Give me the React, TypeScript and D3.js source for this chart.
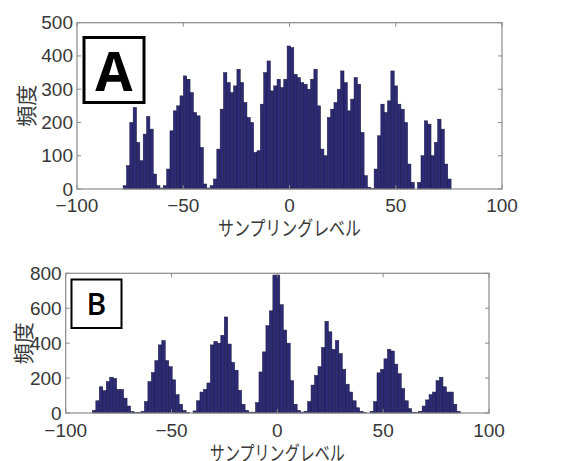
import React from "react";
import * as d3 from "d3";

// ---- Data ----
const xTicks = [-100, -50, 0, 50, 100];
const yTicksA = [0, 100, 200, 300, 400, 500];
const yTicksB = [0, 200, 400, 600, 800];

const binStartA = -78.3;
const binWidthA = 1.575;
const countsA = [
  10, 70, 200, 245, 140, 85, 165, 218, 180, 45,
  10, 3, 10, 60, 175, 235, 250, 280, 340, 330,
  290, 230, 220, 125, 15, 3, 10, 30, 120, 240,
  350, 320, 290, 310, 360, 320, 260, 215, 200, 110,
  115, 255, 350, 385, 295, 310, 330, 305, 330, 430,
  425, 345, 335, 320, 315, 300, 330, 360, 250, 120,
  100, 215, 240, 260, 300, 355, 320, 235, 270, 335,
  315, 170, 40, 5, 2, 60, 160, 255, 230, 265,
  355, 310, 255, 240, 200, 75, 20, 0, 20, 100,
  205, 195, 100, 140, 210, 180, 75, 30,
];

const binStartB = -87.4;
const binWidthB = 1.64;
const countsB = [
  15, 70, 150, 128, 180, 205, 198, 135, 135, 85,
  40, 8, 2, 3, 10, 65, 180, 232, 300, 390,
  415, 300, 265, 190, 105, 50, 15, 2, 0, 12,
  70, 120, 135, 172, 390, 410, 400, 445, 550, 395,
  290, 245, 130, 50, 15, 5, 5, 60, 235, 350,
  500, 585, 790, 790, 620, 475, 400, 185, 50, 15,
  5, 10, 65, 160, 215, 265, 375, 525, 465, 365,
  415, 340, 250, 165, 120, 70, 30, 10, 2, 0,
  10, 65, 230, 250, 310, 365, 355, 280, 225, 140,
  70, 25, 5, 2, 10, 40, 75, 105, 120, 185,
  205, 150, 120, 120, 50, 10,
];

const yLabel = "頻度";
const xLabel = "サンプリングレベル";

type PanelProps = {
  counts: number[];
  binStart: number;
  binWidth: number;
  yTicks: number[];
  yMax: number;
  left: number;
  right: number;
  top: number;
  bottom: number;
  tagLetter: string;
  tagBox: { x: number; y: number; w: number; h: number; sw: number; fs: number; weight: number };
  xLabelY: number;
  xLabelLen: number;
  xTickY: number;
  yLabelX: number;
};

const fmt = (v: number) => (v < 0 ? "\u2212" + Math.abs(v) : String(v));

function Panel(p: PanelProps) {
  const x = d3.scaleLinear().domain([-100, 100]).range([p.left, p.right]);
  const y = d3.scaleLinear().domain([0, p.yMax]).range([p.bottom, p.top]);
  const tickLen = 4;
  const axisColor = "#8a8a8a";
  const textColor = "#383838";
  return (
    <g>
      {p.counts.map((c, i) => {
        const x0 = x(p.binStart + i * p.binWidth);
        const x1 = x(p.binStart + (i + 1) * p.binWidth);
        const yT = y(c);
        return (
          <rect
            key={i}
            x={x0}
            y={yT}
            width={x1 - x0}
            height={Math.max(0, y(0) - yT)}
            fill="#2e2b76"
            stroke="#16153c"
            strokeWidth={0.5}
          />
        );
      })}
      <rect
        x={p.left}
        y={p.top}
        width={p.right - p.left}
        height={p.bottom - p.top}
        fill="none"
        stroke={axisColor}
        strokeWidth={1.2}
      />
      {xTicks.map((t) => (
        <g key={"xt" + t}>
          <line x1={x(t)} x2={x(t)} y1={p.bottom} y2={p.bottom - tickLen} stroke={axisColor} />
          <line x1={x(t)} x2={x(t)} y1={p.top} y2={p.top + tickLen} stroke={axisColor} />
          <text
            x={x(t)}
            y={p.xTickY}
            textAnchor="middle"
            dominantBaseline="central"
            fontFamily="Liberation Sans, Arial, sans-serif"
            fontSize={19}
            fill={textColor}
          >
            {fmt(t)}
          </text>
        </g>
      ))}
      {p.yTicks.map((t) => (
        <g key={"yt" + t}>
          <line x1={p.left} x2={p.left + tickLen} y1={y(t)} y2={y(t)} stroke={axisColor} />
          <line x1={p.right} x2={p.right - tickLen} y1={y(t)} y2={y(t)} stroke={axisColor} />
          <text
            x={p.left - 4}
            y={y(t)}
            textAnchor="end"
            dominantBaseline="central"
            fontFamily="Liberation Sans, Arial, sans-serif"
            fontSize={19}
            fill={textColor}
          >
            {t}
          </text>
        </g>
      ))}
      <text
        x={(p.left + p.right) / 2}
        y={p.xLabelY}
        textAnchor="middle"
        dominantBaseline="central"
        fontFamily="Noto Sans CJK JP, sans-serif"
        fontSize={20}
        fill={textColor}
        textLength={p.xLabelLen}
        lengthAdjust="spacingAndGlyphs"
      >
        {xLabel}
      </text>
      <text
        transform={`translate(${p.yLabelX},${(p.top + p.bottom) / 2}) rotate(-90)`}
        textAnchor="middle"
        dominantBaseline="central"
        fontFamily="Noto Sans CJK JP, sans-serif"
        fontSize={21}
        fill={textColor}
      >
        {yLabel}
      </text>
      <rect
        x={p.tagBox.x}
        y={p.tagBox.y}
        width={p.tagBox.w}
        height={p.tagBox.h}
        fill="#fff"
        stroke="#000"
        strokeWidth={p.tagBox.sw}
      />
      <text
        x={p.tagBox.x + p.tagBox.w / 2}
        y={p.tagBox.y + p.tagBox.h / 2}
        textAnchor="middle"
        dominantBaseline="central"
        fontFamily="Open Sans, Liberation Sans, sans-serif"
        fontWeight={p.tagBox.weight}
        fontSize={p.tagBox.fs}
        fill="#000"
      >
        {p.tagLetter}
      </text>
    </g>
  );
}

export default function App() {
  return (
    <svg
      width={578}
      height={461}
      style={{ position: "absolute", left: 0, top: 0, background: "#fff" }}
    >
      <rect width={578} height={461} fill="#fff" />
      <Panel
        counts={countsA}
        binStart={binStartA}
        binWidth={binWidthA}
        yTicks={yTicksA}
        yMax={500}
        left={77}
        right={502}
        top={22.7}
        bottom={189}
        tagLetter="A"
        tagBox={{ x: 84, y: 37.5, w: 60, h: 65, sw: 3, fs: 54, weight: 700 }}
        xLabelY={227}
        xLabelLen={143}
        xTickY={205}
        yLabelX={25}
      />
      <Panel
        counts={countsB}
        binStart={binStartB}
        binWidth={binWidthB}
        yTicks={yTicksB}
        yMax={800}
        left={65.7}
        right={489}
        top={273.3}
        bottom={413}
        tagLetter="B"
        tagBox={{ x: 71.5, y: 279.5, w: 50, h: 48.5, sw: 2, fs: 30, weight: 600 }}
        xLabelY={452}
        xLabelLen={135}
        xTickY={430}
        yLabelX={22}
      />
    </svg>
  );
}
